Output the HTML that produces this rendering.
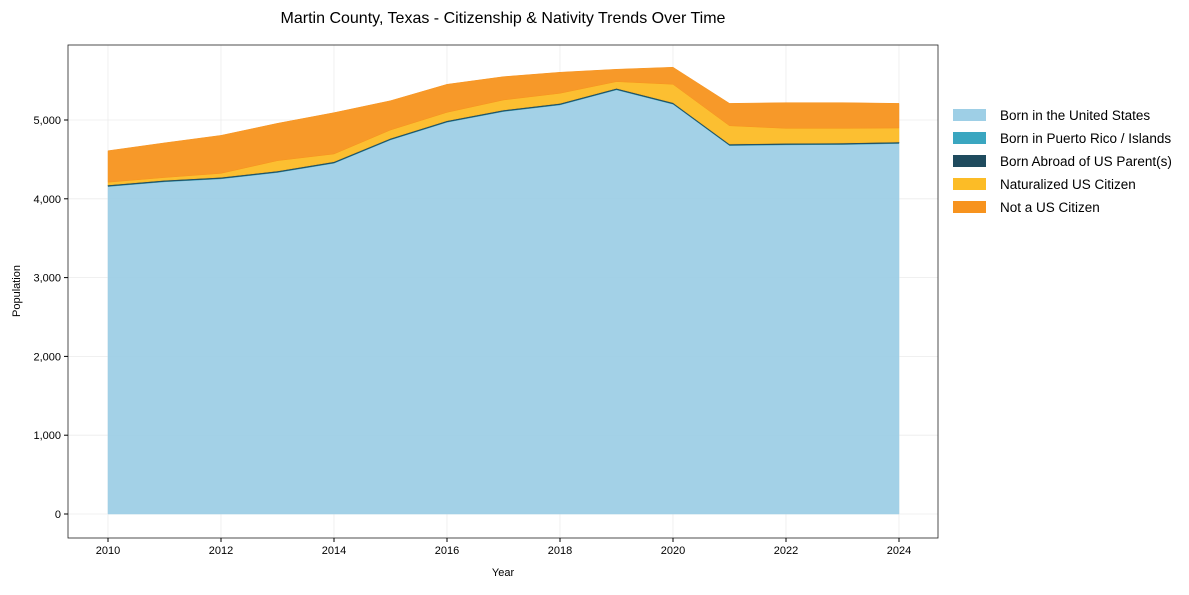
<!DOCTYPE html>
<html><head><meta charset="utf-8"><style>
body{margin:0;background:#fff;font-family:"Liberation Sans",sans-serif;}
svg text{font-family:"Liberation Sans",sans-serif;}
</style></head><body>
<svg id="c" width="1189" height="590"></svg>
<script>
const years=[2010,2011,2012,2013,2014,2015,2016,2017,2018,2019,2020,2021,2022,2023,2024];
const bornUS=[4155,4215,4253,4333,4451,4747,4971,5107,5191,5382,5200,4675,4684,4688,4701];
const bornPR=[5,5,5,5,5,5,5,5,5,5,5,5,5,5,5];
const bornAbroad=[15,15,15,15,15,15,15,15,15,15,15,15,15,15,15];
const naturalized=[35,35,50,131,98,106,106,127,128,85,233,232,190,186,177];
const notCitizen=[400,440,482,474,524,372,356,296,267,157,217,284,326,326,313];
const yTicks=[0,1000,2000,3000,4000,5000];
const xTicks=[2010,2012,2014,2016,2018,2020,2022,2024];
const seriesNames=["Born in the United States","Born in Puerto Rico / Islands","Born Abroad of US Parent(s)","Naturalized US Citizen","Not a US Citizen"];
const colors=["#9ecfe6","#3aa6c0","#1f4b5e","#fcbc26","#f7931e"];
const series=[bornUS,bornPR,bornAbroad,naturalized,notCitizen];
const L=68,R=938,T=45,B=538;
const x=v=>108+(v-2010)*(899-108)/14;
const y=v=>514-v*(514-120)/5000;
const svg=document.getElementById('c');const NS="http://www.w3.org/2000/svg";
function mk(t,a,p){const e=document.createElementNS(NS,t);for(const k in a)e.setAttribute(k,a[k]);(p||svg).appendChild(e);return e;}
yTicks.forEach(t=>{const g=mk('line',{x1:L,x2:R,y1:y(t),y2:y(t),stroke:'#ececec','stroke-width':0.8});
});
xTicks.forEach(t=>{const g=mk('line',{x1:x(t),x2:x(t),y1:T,y2:B,stroke:'#ececec','stroke-width':0.8});
});
let base=years.map(()=>0);
series.forEach((s,i)=>{const top=base.map((b,j)=>b+s[j]);
let d=years.map((yr,j)=>(j?'L':'M')+x(yr)+','+y(top[j])).join('');
for(let j=years.length-1;j>=0;j--)d+='L'+x(years[j])+','+y(base[j]);d+='Z';
const p=mk('path',{d:d,fill:colors[i],stroke:colors[i],'stroke-width':0.5,'fill-opacity':0.95});


base=top;});
const f=mk('rect',{x:L,y:T,width:R-L,height:B-T,fill:'none',stroke:'#222','stroke-width':0.8});

yTicks.forEach(t=>{mk('line',{x1:L-4,x2:L,y1:y(t),y2:y(t),stroke:'#000'});
const tx=mk('text',{x:L-7,y:y(t)+4,'text-anchor':'end','font-size':11});tx.textContent=t.toLocaleString('en-US');
});
xTicks.forEach(t=>{mk('line',{x1:x(t),x2:x(t),y1:B,y2:B+4,stroke:'#000'});
const tx=mk('text',{x:x(t),y:B+16,'text-anchor':'middle','font-size':11});tx.textContent=t;
});
let e=mk('text',{x:503,y:576,'text-anchor':'middle','font-size':11});e.textContent='Year';

e=mk('text',{x:20,y:291,'text-anchor':'middle','font-size':11,transform:'rotate(-90 20 291)'});e.textContent='Population';

e=mk('text',{x:503,y:23,'text-anchor':'middle','font-size':16});e.textContent='Martin County, Texas - Citizenship & Nativity Trends Over Time';

seriesNames.forEach((n,i)=>{const g=mk('g',{});

mk('rect',{x:953,y:109+i*23,width:33,height:12,fill:colors[i]},g);
const t=mk('text',{x:1000,y:120+i*23,'font-size':13.5},g);t.textContent=n;});
</script>
</body></html>
